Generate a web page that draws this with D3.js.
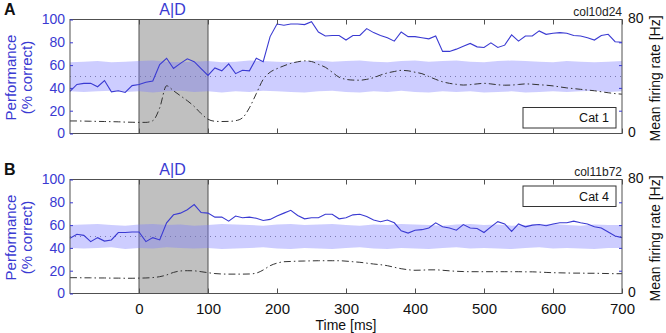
<!DOCTYPE html>
<html><head><meta charset="utf-8">
<script src="https://cdn.jsdelivr.net/npm/d3@7"></script>
<style>body{margin:0;background:#fff}svg{display:block;font-family:"Liberation Sans",Arial,sans-serif}</style>
</head><body><svg id="c" width="666" height="333"></svg>
<script>
// ---- data ----
const timeStart = -100, timeStep = 10;           // performance / firing rate sampled every 10 ms
const bandStep = 20;                              // shuffle band sampled every 20 ms
const xTicks = [0, 100, 200, 300, 400, 500, 600, 700];
const perfTicks = [0, 20, 40, 60, 80, 100];
const rateTickLabels = [0, 80];
const panelLetters = ["A", "B"];
const cellIds = ["col10d24", "col11b72"];
const categories = ["Cat 1", "Cat 4"];
const epochLabel = "A|D";
const epochWindow = [0, 100];

const perfA = [37,43,44,44,41,46.5,36.5,37.5,36,42,43,45,46,60.5,66,57,61.5,65.5,63,57,51,57.5,55,61,52.5,55.5,55,66,63,85,96,95,96,96,95.5,98,89,85.5,86,86,82,86,86,92,88.5,86,84,81,89,85,85,84,83,85.5,72,72,74,76.5,79,76,75.5,79.5,75.5,77.5,86.5,81,85.5,85.5,90,87,88,88.5,88,86,85.5,84,82,86,87,80.5,80];
const rateA = [8.8,8.8,8.7,8.6,8.5,8.4,8.3,8.2,8.0,7.9,7.8,7.8,9,18,33.5,30,26.5,23,19,14,10,8.6,8.4,8.5,9,11,18,28,38,43,45.5,47.5,49.2,50.3,51,50.5,48.5,46.5,43,39.5,38,37.5,37.4,38,39.2,41,42.5,43.5,44.3,44,43,42,40,38,36.3,35.2,34.5,34,34.3,34.8,35.2,34.8,34.2,33.9,34,34.4,34.8,34.6,34.2,33.9,33.4,32.7,32,31.5,31,30.5,30,29.3,28.6,28,27.6];
const bandUpA = [62.5,63,63.5,62.5,63,63.5,64,63,62.5,63,63.5,62.5,63,64,63.5,63,62.5,63.5,64,63,63.5,64,63,62.5,63.5,64,63,63.5,64,63,62.5,63.5,64,63.5,63,62.5,63.5,63,62.5,63,63.5];
const bandLoA = [37,36.5,37,37.5,36.5,37,36,37,37.5,36.5,37,36,37,36.5,37.5,37,36.5,36,37,37.5,36.5,36,37,36.5,37.5,36.5,36,37,36.5,37,36,36.5,37,36,36.5,37,36.5,37,37.5,36.5,37];

const perfB = [48.5,52,51,45.5,49,46,47,53.5,53.5,54,54,45.5,49,47,62,69,70.5,73.5,78,71,70.5,67,67,63.5,68,66.5,67,66,64,65,68,70.5,73,68.5,65.5,66.5,66.5,69.5,69.5,65.5,66.5,69,69.5,67.5,64.5,63,64.5,62,55,53,55.5,56,57.5,62,58.5,57.5,55.5,60.5,57.5,57,53.5,58.5,63,61,54.5,61,58.5,60,60.5,59.5,61,62,62,63.5,62,61,58.5,57.5,54,50.5,49];
const rateB = [11.1,11.1,11,11,10.9,10.9,10.8,10.8,10.7,10.7,10.8,10.9,11.2,11.8,13,14.8,15.8,16,15.9,15.3,14.6,14,13.7,13.6,13.6,13.6,13.7,14.3,16.5,19.5,21.3,22.3,22.5,22.7,22.8,22.9,23,23,23,23,22.7,22.3,21.9,21.3,20.7,20.2,19.5,18.4,17.4,16.7,16.3,16.4,16.6,16.6,16.3,15.9,15.6,15.4,15.3,15.3,15.3,15.3,15.3,15.3,15.3,15.3,15.2,15.2,15,14.8,14.6,14.5,14.4,14.3,14.3,14.2,14.2,14.1,14,13.9,13.9];
const bandUpB = [60,60.5,61,60,59.5,60.5,61,60,60.5,59.5,60,61,60.5,60,59.5,60.5,61,60,60.5,61,60,59.5,60.5,60,61,60.5,60,59.5,60.5,61,60,60.5,59.5,60,60.5,61,60,59.5,60.5,60,60];
const bandLoB = [40,39.5,40,40.5,39,40,39.5,40.5,40,39.5,40,39,39.5,40,40.5,39.5,39,40,39.5,39,40,40.5,39.5,39,40,39.5,39,40,40.5,39.5,40,39.5,39,40,40.5,39.5,40,39.5,39,40,40];

const panels = [
  {perf: perfA, rate: rateA, up: bandUpA, lo: bandLoA, top: 19.5, legendTop: false},
  {perf: perfB, rate: rateB, up: bandUpB, lo: bandLoB, top: 179.5, legendTop: true}
];

// ---- drawing ----
const blue = "#3a3ad2", frame = "#505050";
const svg = d3.select("#c");
const L = 70, R = 622, H = 114;
const x = d3.scaleLinear().domain([-100, 700]).range([L, R]);

panels.forEach((p, i) => {
  const yP = d3.scaleLinear().domain([0, 100]).range([p.top + H, p.top]);
  const yR = d3.scaleLinear().domain([0, 80]).range([p.top + H, p.top]);
  const g = svg.append("g");
  const tOf = k => timeStart + k * timeStep;
  const bOf = k => timeStart + k * bandStep;

  // epoch box
  g.append("rect").attr("x", x(epochWindow[0])).attr("y", p.top)
    .attr("width", x(epochWindow[1]) - x(epochWindow[0])).attr("height", H)
    .attr("fill", "#c0c0c0").attr("stroke", frame).attr("stroke-width", 1);

  // shuffle band
  const area = d3.area().x((d, k) => x(bOf(k))).y0((d, k) => yP(p.lo[k])).y1(d => yP(d)).curve(d3.curveLinear);
  g.append("path").datum(p.up).attr("d", area).attr("fill", "#7b7bff").attr("fill-opacity", 0.38);

  // chance line
  g.append("line").attr("x1", L).attr("x2", R).attr("y1", yP(50)).attr("y2", yP(50))
    .attr("stroke", "#7a7ab0").attr("stroke-width", 1).attr("stroke-dasharray", "1,4");

  // firing rate
  const lineR = d3.line().x((d, k) => x(tOf(k))).y(d => yR(d)).curve(d3.curveMonotoneX);
  g.append("path").datum(p.rate).attr("d", lineR).attr("fill", "none")
    .attr("stroke", "#333").attr("stroke-width", 1).attr("stroke-dasharray", "7,3,1.5,3");

  // performance
  const lineP = d3.line().x((d, k) => x(tOf(k))).y(d => yP(d));
  g.append("path").datum(p.perf).attr("d", lineP).attr("fill", "none")
    .attr("stroke", blue).attr("stroke-width", 1.1);

  // frame
  g.append("rect").attr("x", L).attr("y", p.top).attr("width", R - L).attr("height", H)
    .attr("fill", "none").attr("stroke", frame).attr("stroke-width", 1);

  // left axis
  const ax = g.append("g").attr("transform", `translate(${L},0)`)
    .call(d3.axisLeft(yP).tickValues(perfTicks).tickSize(-3).tickPadding(5));
  ax.select(".domain").remove();
  ax.selectAll("line").attr("stroke", blue);
  ax.selectAll("text").attr("fill", blue).attr("font-size", 14).attr("font-family", "Liberation Sans, Arial");

  // right blue ticks
  const ar = g.append("g").attr("transform", `translate(${R},0)`)
    .call(d3.axisRight(yP).tickValues(perfTicks.slice(1, 5)).tickSize(-3).tickFormat(""));
  ar.select(".domain").remove();
  ar.selectAll("line").attr("stroke", blue);

  // right labels
  const arr = g.append("g").attr("transform", `translate(${R},0)`)
    .call(d3.axisRight(yR).tickValues(rateTickLabels).tickSize(0).tickPadding(6));
  arr.select(".domain").remove();
  arr.selectAll("text").attr("fill", "#111").attr("font-size", 14).attr("dy", "0.22em")
    .attr("font-family", "Liberation Sans, Arial");

  // x axes
  const ab = g.append("g").attr("transform", `translate(0,${p.top + H})`)
    .call(d3.axisBottom(x).tickValues(xTicks).tickSize(-5).tickPadding(10)
      .tickFormat(i === 1 ? d3.format("d") : ""));
  ab.select(".domain").remove();
  ab.selectAll("line").attr("stroke", frame);
  ab.selectAll("text").attr("fill", "#111").attr("font-size", 15).attr("font-family", "Liberation Sans, Arial");
  const at = g.append("g").attr("transform", `translate(0,${p.top})`)
    .call(d3.axisTop(x).tickValues(xTicks).tickSize(-5).tickFormat(""));
  at.select(".domain").remove();
  at.selectAll("line").attr("stroke", frame);

  // labels
  g.append("text").attr("x", 4).attr("y", p.top - 4.5).text(panelLetters[i])
    .attr("font-weight", "bold").attr("font-size", 16).attr("fill", "#111");
  g.append("text").attr("x", (x(epochWindow[0]) + x(epochWindow[1])) / 2 - 1).attr("y", p.top - 4.5)
    .attr("text-anchor", "middle").attr("font-size", 16).attr("fill", blue).text(epochLabel);
  g.append("text").attr("x", R).attr("y", p.top - 3.5).attr("text-anchor", "end")
    .attr("font-size", 12).attr("fill", "#222").text(cellIds[i]);

  const yl = g.append("text").attr("transform", `translate(0,${p.top + H / 2 + 1}) rotate(-90)`)
    .attr("text-anchor", "middle").attr("fill", blue).attr("font-size", 15);
  yl.append("tspan").attr("x", 0).attr("y", 16).text("Performance");
  yl.append("tspan").attr("x", 0).attr("y", 32).text("(% correct)");

  g.append("text").attr("transform", `translate(660,${p.top + H / 2 + 2}) rotate(-90)`)
    .attr("text-anchor", "middle").attr("fill", "#111").attr("font-size", 14)
    .text("Mean firing rate [Hz]");

  // legend box
  const ly = p.legendTop ? p.top + 6.5 : p.top + 88;
  g.append("rect").attr("x", 523).attr("y", ly).attr("width", 93).attr("height", 20.5)
    .attr("fill", "#fff").attr("stroke", "#333").attr("stroke-width", 1);
  g.append("text").attr("x", 609).attr("y", ly + 14.5).attr("text-anchor", "end")
    .attr("font-size", 12.5).attr("fill", "#111").text(categories[i]);
});

svg.append("text").attr("x", (L + R) / 2).attr("y", 330).attr("text-anchor", "middle")
  .attr("font-size", 14).attr("fill", "#111").text("Time [ms]");
</script></body></html>
